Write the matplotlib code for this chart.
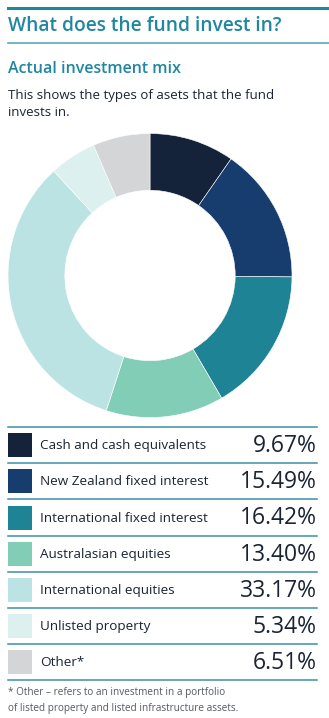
import matplotlib.pyplot as plt
from matplotlib.patches import Rectangle

categories = ['Cash and cash equivalents', 'New Zealand fixed interest',
              'International fixed interest', 'Australasian equities',
              'International equities', 'Unlisted property', 'Other*']
values = [9.67, 15.49, 16.42, 13.40, 33.17, 5.34, 6.51]
colors = ['#14223a', '#163d6e', '#1f8396', '#82cdb5', '#bbe3e3', '#dcf0ef', '#d4d5d7']

W, H = 329, 718
teal = '#1f87a0'
dark = '#1a2433'
plt.rcParams['font.family'] = ['Open Sans', 'DejaVu Sans']

fig = plt.figure(figsize=(W / 100, H / 100), dpi=100)

# overlay axes in pixel coordinates
bg = fig.add_axes([0, 0, 1, 1])
bg.set_xlim(0, W)
bg.set_ylim(H, 0)
bg.axis('off')

bg.plot([8, W], [8, 8], color=teal, lw=2.2)
bg.text(8, 26, 'What does the fund invest in?', color=teal, fontsize=13.8,
        fontweight='semibold', va='center', ha='left')
bg.plot([8, W], [42.5, 42.5], color='#5aa9bb', lw=1.2)
bg.text(8, 69, 'Actual investment mix', color=teal, fontsize=11.5,
        fontweight='semibold', va='center', ha='left')
bg.text(8, 95, 'This shows the types of asets that the fund', color=dark,
        fontsize=9.5, va='center', ha='left')
bg.text(8, 112, 'invests in.', color=dark, fontsize=9.5, va='center', ha='left')

# donut
cx, cy, r = 150, 275.5, 142
pax = fig.add_axes([(cx - r) / W, (H - cy - r) / H, 2 * r / W, 2 * r / H])
pax.pie(values, colors=colors, startangle=90, counterclock=False, radius=1,
        wedgeprops=dict(width=0.4, edgecolor='white', linewidth=0.4))
pax.set_xlim(-1, 1)
pax.set_ylim(-1, 1)
pax.axis('off')

# legend table
top = 427
row_h = 36.2
bg.plot([8, 317], [top, top], color='#3d8fa5', lw=1.1)
for i, (cat, val, col) in enumerate(zip(categories, values, colors)):
    y0 = top + i * row_h
    yc = y0 + row_h / 2
    bg.add_patch(Rectangle((8, yc - 12), 24, 24, color=col, lw=0))
    bg.text(40, yc + 0.5, cat, color=dark, fontsize=9.7, va='center', ha='left')
    bg.text(317, yc + 1, f'{val:.2f}%', color=dark, fontsize=16.5,
            va='center', ha='right')
    bg.plot([8, 317], [y0 + row_h, y0 + row_h], color='#3d8fa5', lw=1.1)

bg.text(8, 693, '* Other \u2013 refers to an investment in a portfolio', color='#555b63',
        fontsize=7.2, va='center', ha='left')
bg.text(8, 708, 'of listed property and listed infrastructure assets.', color='#555b63',
        fontsize=7.2, va='center', ha='left')

fig.savefig('out.png', dpi=100)
